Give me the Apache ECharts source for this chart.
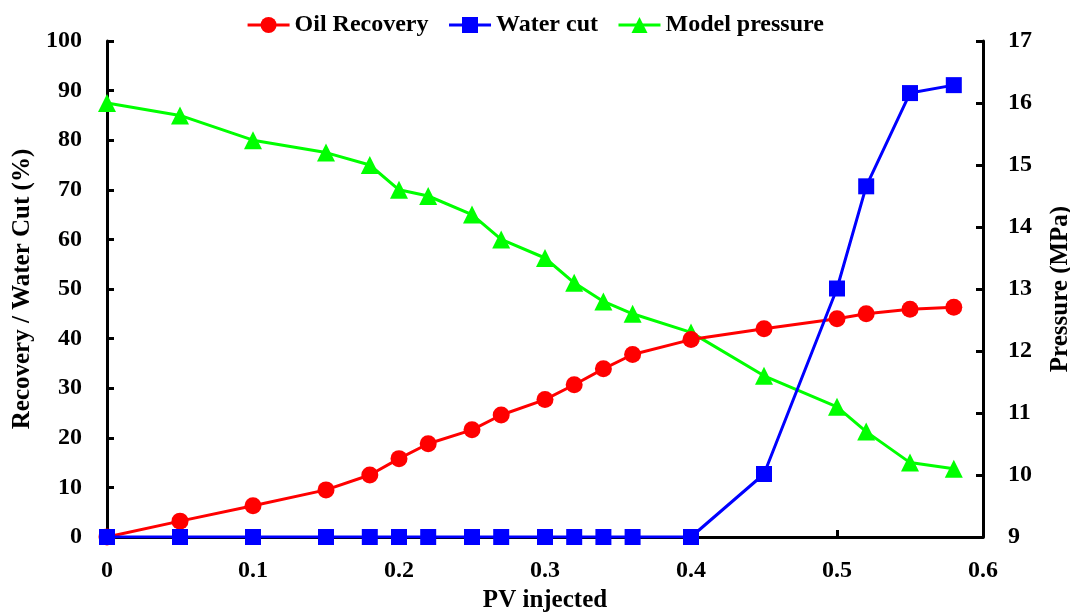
<!DOCTYPE html>
<html><head><meta charset="utf-8">
<script src="https://cdn.jsdelivr.net/npm/echarts@6/dist/echarts.min.js"></script>
<style>html,body{margin:0;padding:0;background:#fff}#c{width:1070px;height:612px}</style>
</head><body><div id="c"></div>
<script>
const pvInjected = [0, 0.05, 0.1, 0.15, 0.18, 0.2, 0.22, 0.25, 0.27, 0.3, 0.32, 0.34, 0.36, 0.4, 0.45, 0.5, 0.52, 0.55, 0.58];
const oilRecovery = [0, 3.2, 6.3, 9.5, 12.5, 15.8, 18.8, 21.6, 24.6, 27.7, 30.7, 33.9, 36.8, 39.8, 42.0, 44.0, 45.0, 45.9, 46.3];
const waterCut = [0, 0, 0, 0, 0, 0, 0, 0, 0, 0, 0, 0, 0, 0, 12.7, 50.1, 70.7, 89.5, 91.1];
const modelPressure = [16.0, 15.8, 15.4, 15.2, 15.0, 14.6, 14.5, 14.2, 13.8, 13.5, 13.1, 12.8, 12.6, 12.3, 11.6, 11.1, 10.7, 10.2, 10.1];
const seriesNames = ['Oil Recovery', 'Water cut', 'Model pressure'];
const axisTitles = {x: 'PV injected', yLeft: 'Recovery / Water Cut (%)', yRight: 'Pressure (MPa)'};

const pair = (xs, ys) => xs.map((x, i) => [x, ys[i]]);
const font = 'Liberation Serif';
const tickLabel = {color: '#000', fontFamily: font, fontWeight: 'bold', fontSize: 24};
const titleStyle = {color: '#000', fontFamily: font, fontWeight: 'bold', fontSize: 25};
const axisLine = {show: true, lineStyle: {color: '#000', width: 3}};
const axisTick = {show: true, inside: true, length: 7, lineStyle: {color: '#000', width: 3}};

const chart = echarts.init(document.getElementById('c'), null, {renderer: 'canvas'});
chart.setOption({
  animation: false,
  backgroundColor: '#fff',
  legend: {
    top: 8, left: 'center', itemWidth: 42, itemHeight: 20, itemGap: 19,
    lineStyle: {width: 3},
    textStyle: {color: '#000', fontFamily: font, fontWeight: 'bold', fontSize: 24},
    data: seriesNames
  },
  grid: {left: 107, right: 87, top: 41, bottom: 75, containLabel: false, outerBoundsMode: 'none'},
  xAxis: {
    type: 'value', min: 0, max: 0.6, interval: 0.1,
    name: axisTitles.x, nameLocation: 'middle', nameGap: 48,
    nameTextStyle: titleStyle,
    axisLine: axisLine, axisTick: axisTick,
    axisLabel: Object.assign({margin: 22}, tickLabel),
    splitLine: {show: false}
  },
  yAxis: [
    {
      type: 'value', min: 0, max: 100, interval: 10, position: 'left',
      name: axisTitles.yLeft, nameLocation: 'middle', nameGap: 68, nameRotate: 90,
      nameTextStyle: titleStyle,
      axisLine: axisLine, axisTick: axisTick,
      axisLabel: Object.assign({margin: 25}, tickLabel),
      splitLine: {show: false}
    },
    {
      type: 'value', min: 9, max: 17, interval: 1, position: 'right',
      name: axisTitles.yRight, nameLocation: 'middle', nameGap: 65, nameRotate: 90,
      nameTextStyle: titleStyle,
      axisLine: axisLine, axisTick: axisTick,
      axisLabel: Object.assign({margin: 25}, tickLabel),
      splitLine: {show: false}
    }
  ],
  series: [
    {
      name: seriesNames[0], type: 'line', yAxisIndex: 0, data: pair(pvInjected, oilRecovery),
      symbol: 'circle', symbolSize: 17, color: '#ff0000',
      lineStyle: {width: 3, color: '#ff0000'}, itemStyle: {color: '#ff0000'}, z: 3
    },
    {
      name: seriesNames[1], type: 'line', yAxisIndex: 0, data: pair(pvInjected, waterCut),
      symbol: 'rect', symbolSize: 16, color: '#0000ff',
      lineStyle: {width: 3, color: '#0000ff'}, itemStyle: {color: '#0000ff'}, z: 4
    },
    {
      name: seriesNames[2], type: 'line', yAxisIndex: 1, data: pair(pvInjected, modelPressure),
      symbol: 'triangle', symbolSize: 18, color: '#00ff00',
      lineStyle: {width: 3, color: '#00ff00'}, itemStyle: {color: '#00ff00'}, z: 2
    }
  ]
});
</script></body></html>
